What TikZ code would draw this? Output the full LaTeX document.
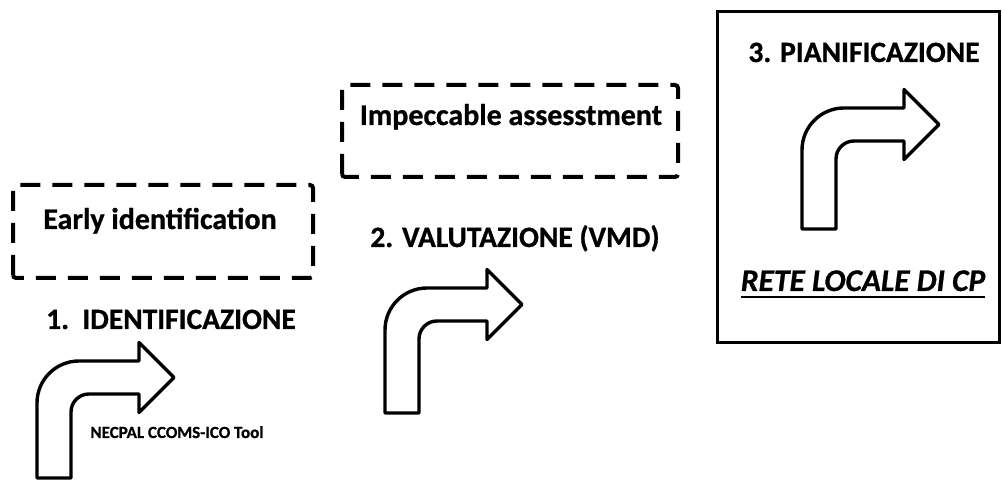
\documentclass[tikz,border=0pt]{standalone}
\usepackage{fontspec}
\setmainfont{Carlito}[BoldFeatures={FakeBold=0.8},BoldItalicFeatures={FakeBold=0.8}]
\begin{document}
\begin{tikzpicture}[x=1pt,y=1pt,
  dashbox/.style={draw=black, line width=4pt, dash pattern=on 20pt off 12pt, rounded corners=3pt},
  solidbox/.style={draw=black, line width=3pt},
  big/.style={font=\bfseries\fontsize{29.5}{32}\selectfont, inner sep=0pt, anchor=base},
  mid/.style={font=\bfseries\fontsize{30}{33}\selectfont, inner sep=0pt, anchor=base},
  small/.style={font=\bfseries\fontsize{17}{20}\selectfont, inner sep=0pt, anchor=base},
  pics/bentarrow/.style={code={
    \draw[line width=3.4pt, line join=round, fill=white]
      (0,0) -- (0,#1-42) arc[start angle=180, end angle=90, radius=42]
      -- (102,#1) -- (102,#1+18.5) -- (137,#1-16.5) -- (102,#1-51.5)
      -- (102,#1-33) -- (52,#1-33) arc[start angle=90, end angle=180, radius=18]
      -- (34,0) -- cycle;
  }}]
\useasboundingbox (0,0) rectangle (1002,481);
% box 1
\draw[dashbox] (13,203) rectangle (313,296);
\node[mid] (early) at (160,252) {Early identification};
\node[big] (id) at (171,152) {1.\ \ IDENTIFICAZIONE};
\pic at (37,3) {bentarrow=117};
\node[small] (necpal) at (177,43) {NECPAL CCOMS-ICO Tool};
% box 2
\draw[dashbox] (342,304) rectangle (678,396);
\node[mid] (imp) at (511,356) {Impeccable assesstment};
\node[big] (val) at (515,234) {2. VALUTAZIONE (VMD)};
\pic at (385,68) {bentarrow=125};
% box 3
\draw[solidbox] (717,138) rectangle (999.5,469);
\node[big] (pian) at (864,419) {3. PIANIFICAZIONE};
\pic at (802,252) {bentarrow=121};
\node[big, font=\bfseries\itshape\fontsize{31.5}{34}\selectfont] (rete) at (863,190) {RETE LOCALE DI CP};
\draw[line width=2.6pt] ([yshift=-6pt]rete.base west) -- ([yshift=-6pt]rete.base east);
\end{tikzpicture}
\end{document}
